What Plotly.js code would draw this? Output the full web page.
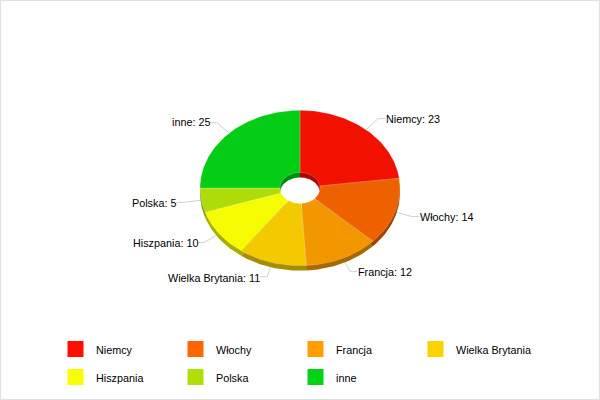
<!DOCTYPE html>
<html><head><meta charset="utf-8">
<script src="https://cdn.plot.ly/plotly-3.0.1.min.js"></script>
<style>html,body{margin:0;padding:0;background:#fff}#c{width:600px;height:400px}</style>
</head><body><div id="c"></div>
<script>
const categories = ["Niemcy","Włochy","Francja","Wielka Brytania","Hiszpania","Polska","inne"];
const values = [23,14,12,11,10,5,25];
const legendColors = ["#FF0F00","#FF6600","#FF9E01","#FCD202","#F8FF01","#B0DE09","#04D215"];
const faceColors = ["#F21000","#EE6100","#F39700","#F3C900","#F5FB00","#AEDC08","#05CC15"];
const rimColors = ["#A80A00","#A04400","#A86A00","#A88C00","#AAAE00","#7A9A06","#038E0E"];

const cx=300, cy=188, rx=100, ry=77.7, hx=20, hy=15.6, depth=5;
const total = values.reduce((a,b)=>a+b,0);
const pt=(a,rX,rY,dy=0)=>[cx+rX*Math.sin(a), cy-rY*Math.cos(a)+dy];

function sector(a0,a1,dy){
  const n=Math.max(4,Math.ceil((a1-a0)/0.02)), xs=[], ys=[];
  for(let i=0;i<=n;i++){const p=pt(a0+(a1-a0)*i/n,rx,ry,dy);xs.push(p[0]);ys.push(p[1]);}
  for(let i=n;i>=0;i--){const p=pt(a0+(a1-a0)*i/n,hx,hy,dy);xs.push(p[0]);ys.push(p[1]);}
  xs.push(xs[0]);ys.push(ys[0]);
  return {xs,ys};
}
const rim=[], face=[], lead=[], ann=[];
let acc=0;
values.forEach((v,i)=>{
  const a0=acc/total*2*Math.PI, a1=(acc+v)/total*2*Math.PI, m=(a0+a1)/2; acc+=v;
  const r=sector(a0,a1,depth), f=sector(a0,a1,0);
  rim.push({type:'scatter',mode:'lines',x:r.xs,y:r.ys,fill:'toself',fillcolor:rimColors[i],line:{width:0},hoverinfo:'skip'});
  face.push({type:'scatter',mode:'lines',x:f.xs,y:f.ys,fill:'toself',fillcolor:faceColors[i],line:{width:0.6,color:'rgba(255,255,255,0.35)'},hoverinfo:'skip'});
  const s=pt(m,rx,ry), e=pt(m,rx*1.18,ry*1.19), dir=Math.sin(m)>=0?1:-1;
  lead.push({type:'scatter',mode:'lines',x:[s[0],e[0],e[0]+dir*7],y:[s[1],e[1],e[1]],line:{width:1,color:'#cfcfcf'},hoverinfo:'skip'});
  const yoff = dir>0 ? 0 : (Math.cos(m)<0 ? 1 : -1);
  ann.push({xref:'x',yref:'y',x:e[0]+(dir>0?8:-7),y:e[1]+yoff,text:categories[i]+': '+v,showarrow:false,
    xanchor:dir>0?'left':'right',yanchor:'middle',font:{family:'Liberation Sans, Arial',size:10.8,color:'#000'},borderpad:0,borderwidth:0});
});
const legend=categories.map((c,i)=>{
  const col=i%4,row=Math.floor(i/4),lx=75.5+120*col,ly=349+28*row;
  ann.push({xref:'x',yref:'y',x:lx+20.5,y:ly+1,text:c,showarrow:false,xanchor:'left',yanchor:'middle',
    font:{family:'Liberation Sans, Arial',size:10.8,color:'#000'},borderpad:0,borderwidth:0});
  return {type:'scatter',mode:'markers',x:[lx],y:[ly],marker:{symbol:'square',size:16,color:legendColors[i],line:{width:0}},hoverinfo:'skip'};
});
Plotly.newPlot('c',[...lead,...rim,...face,...legend],{
  width:600,height:400,margin:{l:0,r:0,t:0,b:0},showlegend:false,
  paper_bgcolor:'#fff',plot_bgcolor:'#fff',
  xaxis:{range:[0,600],visible:false,fixedrange:true},
  yaxis:{range:[400,0],visible:false,fixedrange:true},
  annotations:ann,
  shapes:[{type:'rect',xref:'paper',yref:'paper',x0:0,y0:0,x1:1,y1:1,line:{color:'#e0e0e0',width:2},layer:'below'}]
},{displayModeBar:false,staticPlot:true});
</script></body></html>
